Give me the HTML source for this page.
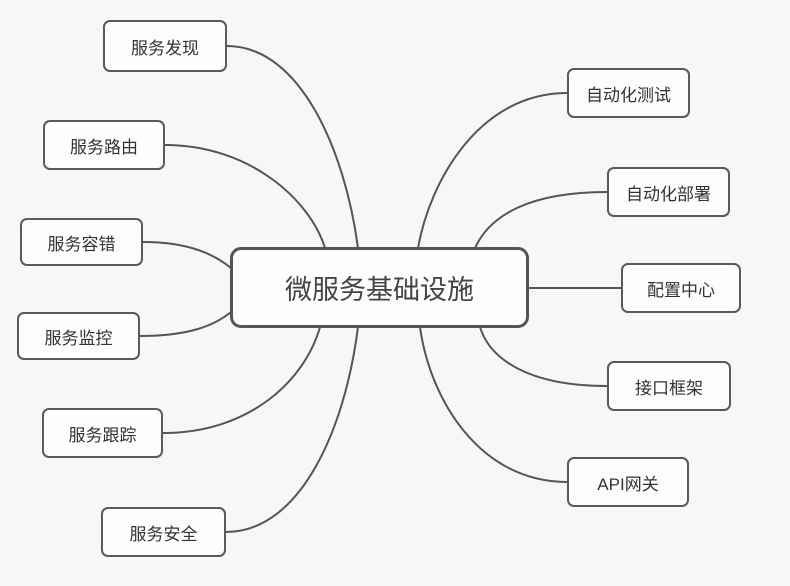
<!DOCTYPE html>
<html><head><meta charset="utf-8"><style>
body{margin:0;width:790px;height:586px;background:#f7f7f5;position:relative;overflow:hidden;font-family:"Liberation Sans","Noto Sans CJK SC",sans-serif;}
.n{position:absolute;box-sizing:border-box;border:2px solid #5a5a5a;border-radius:7px;background:#fdfdfc;display:flex;align-items:center;justify-content:center;font-size:17px;color:#333;}
.c{position:absolute;left:230px;top:247px;width:299px;height:81px;box-sizing:border-box;border:3px solid #555;border-radius:11px;background:#fdfdfc;display:flex;align-items:center;justify-content:center;font-size:27px;color:#444;}
svg{position:absolute;left:0;top:0}
</style></head><body>
<svg width="790" height="586"><g fill="none" stroke="#555" stroke-width="2">
<path d="M227 46 C300 46 345 150 358 248"/>
<path d="M165 145 C250 145 310 200 325 248"/>
<path d="M143 242 C190 242 215 255 231 268"/>
<path d="M140 336 C190 336 215 325 231 312"/>
<path d="M163 433 C250 433 305 380 320 327"/>
<path d="M226 532 C300 532 345 430 358 327"/>
<path d="M567 93 C480 93 430 180 418 248"/>
<path d="M607 192 C530 192 490 215 475 248"/>
<path d="M621 288 L528 288"/>
<path d="M607 386 C530 386 490 360 480 327"/>
<path d="M567 482 C480 482 430 400 420 327"/>
</g></svg>
<div class="c">微服务基础设施</div>
<div class="n" style="left:103px;top:20px;width:124px;height:52px">服务发现</div>
<div class="n" style="left:43px;top:120px;width:122px;height:50px">服务路由</div>
<div class="n" style="left:20px;top:218px;width:123px;height:48px">服务容错</div>
<div class="n" style="left:17px;top:312px;width:123px;height:48px">服务监控</div>
<div class="n" style="left:42px;top:408px;width:121px;height:50px">服务跟踪</div>
<div class="n" style="left:101px;top:507px;width:125px;height:50px">服务安全</div>
<div class="n" style="left:567px;top:68px;width:123px;height:50px">自动化测试</div>
<div class="n" style="left:607px;top:167px;width:123px;height:50px">自动化部署</div>
<div class="n" style="left:621px;top:263px;width:120px;height:50px">配置中心</div>
<div class="n" style="left:607px;top:361px;width:124px;height:50px">接口框架</div>
<div class="n" style="left:567px;top:457px;width:122px;height:50px">API网关</div>
</body></html>
